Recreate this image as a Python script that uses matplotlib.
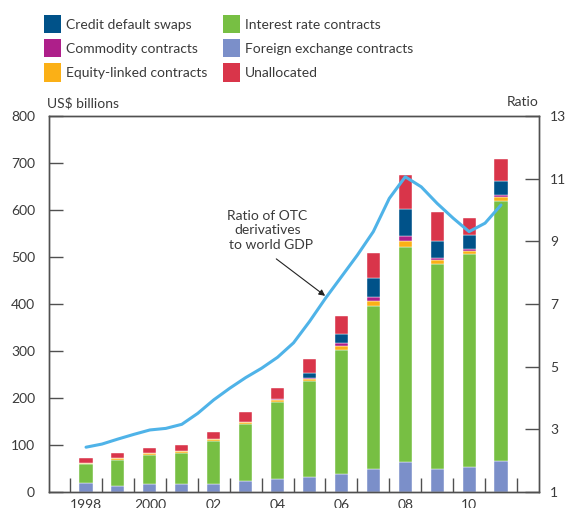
import matplotlib
matplotlib.use("Agg")
import matplotlib.pyplot as plt
from matplotlib.patches import Patch
import numpy as np

plt.rcParams['font.family'] = ['Lato', 'DejaVu Sans']

# data (US$ billions)
years = np.arange(1998, 2012)
fx = [18.5, 13.5, 16, 18, 18, 23, 27, 31, 38, 49, 63, 49, 54, 65]
interest = [41.5, 55, 63, 66, 90, 121, 165, 206, 264, 347, 459, 437, 452, 554]
equity = [2.5, 3, 3, 3, 4, 4, 4.5, 4, 8, 10, 11, 8, 7, 9]
commodity = [0, 0, 0, 0, 0.5, 0, 1, 2, 6, 8, 12, 4, 3, 3]
cds = [0, 0, 0, 0, 0, 0, 0, 11, 20, 42, 58, 35, 30, 31]
unalloc = [9, 10.5, 12, 13, 16, 22, 24, 28, 38, 53, 71, 63, 38, 47]

# ratio of OTC derivatives to world GDP, read every half year
ratio_x = np.arange(1998, 2011.01, 0.5)
ratio = [2.43, 2.53, 2.69, 2.84, 2.98, 3.03, 3.16, 3.51, 3.94, 4.31, 4.65, 4.95,
         5.30, 5.76, 6.44, 7.18, 7.87, 8.56, 9.31, 10.37, 11.06, 10.74, 10.21,
         9.74, 9.31, 9.58, 10.16]

xlabels = ['1998', '2000', '02', '04', '06', '08', '10']

series = [
    ('Foreign exchange contracts', fx, '#7b8fc9'),
    ('Interest rate contracts', interest, '#77bf43'),
    ('Equity-linked contracts', equity, '#fbb016'),
    ('Commodity contracts', commodity, '#ae1f8a'),
    ('Credit default swaps', cds, '#005289'),
    ('Unallocated', unalloc, '#d9354a'),
]
colors = {name: c for name, _, c in series}

txt = '#3a3a3a'
spine_c = '#505050'

fig = plt.figure(figsize=(5.65, 5.08), dpi=100)
ax = fig.add_axes([49/565, 16/508, 490/565, 376/508])

bottom = np.zeros(len(years))
for name, vals, c in series:
    ax.bar(years, vals, width=0.41, bottom=bottom, color=c,
           edgecolor='white', linewidth=0.3)
    bottom += np.array(vals)

ax.set_xlim(1996.84, 2012.19)
ax.set_ylim(0, 800)
ax.set_yticks(np.arange(0, 801, 100))
ax.set_xticks(np.arange(1997.5, 2012, 1))
ax.set_xticklabels([])
ax.set_xticks(np.arange(1998, 2011, 2), minor=True)
ax.set_xticklabels(xlabels, minor=True)
ax.tick_params(axis='x', which='major', direction='in', length=10, width=1,
               color=spine_c)
ax.tick_params(axis='x', which='minor', length=0, pad=5, labelsize=10,
               labelcolor=txt)
ax.tick_params(axis='y', direction='in', length=10, width=1, color=spine_c,
               pad=10, labelsize=10, labelcolor=txt)
for s in ax.spines.values():
    s.set_color(spine_c)
    s.set_linewidth(1)

ax2 = ax.twinx()
ax2.plot(ratio_x, ratio, color='#4fb3e8', lw=2.2, solid_capstyle='round',
         solid_joinstyle='round')
ax2.set_ylim(1, 13)
ax2.set_yticks(np.arange(1, 14, 2))
ax2.tick_params(axis='y', direction='in', length=10, width=1, color=spine_c,
                pad=8, labelsize=10, labelcolor=txt)
for s in ax2.spines.values():
    s.set_color(spine_c)
    s.set_linewidth(1)

ax2.text(2003.68, 9.36, 'Ratio of OTC\nderivatives\n  to world GDP',
         ha='center', va='center', multialignment='center', fontsize=10,
         color=txt, linespacing=1.25)
ax2.annotate('', xy=(2005.49, 7.26), xytext=(2003.96, 8.44),
             arrowprops=dict(arrowstyle='-|>', color='#222222', lw=0.8,
                             mutation_scale=9, shrinkA=0, shrinkB=0))

fig.text(47/565, 1 - 103/508, 'US$ billions', ha='left', va='center',
         fontsize=10, color=txt)
fig.text(539/565, 1 - 102.5/508, 'Ratio', ha='right', va='center',
         fontsize=10, color=txt)

# legend in two columns
col1 = ['Credit default swaps', 'Commodity contracts', 'Equity-linked contracts']
col2 = ['Interest rate contracts', 'Foreign exchange contracts', 'Unallocated']
for names, x0 in [(col1, 44/565), (col2, 223/565)]:
    handles = [Patch(facecolor=colors[n], edgecolor='none', label=n) for n in names]
    fig.legend(handles=handles, loc='upper left', bbox_to_anchor=(x0, 1 - 15/508),
               frameon=False, fontsize=10, borderpad=0, handlelength=1.25,
               handleheight=1.65, handletextpad=0.3, labelspacing=0.42,
               labelcolor=txt, borderaxespad=0)

fig.savefig('out.png', dpi=100)
